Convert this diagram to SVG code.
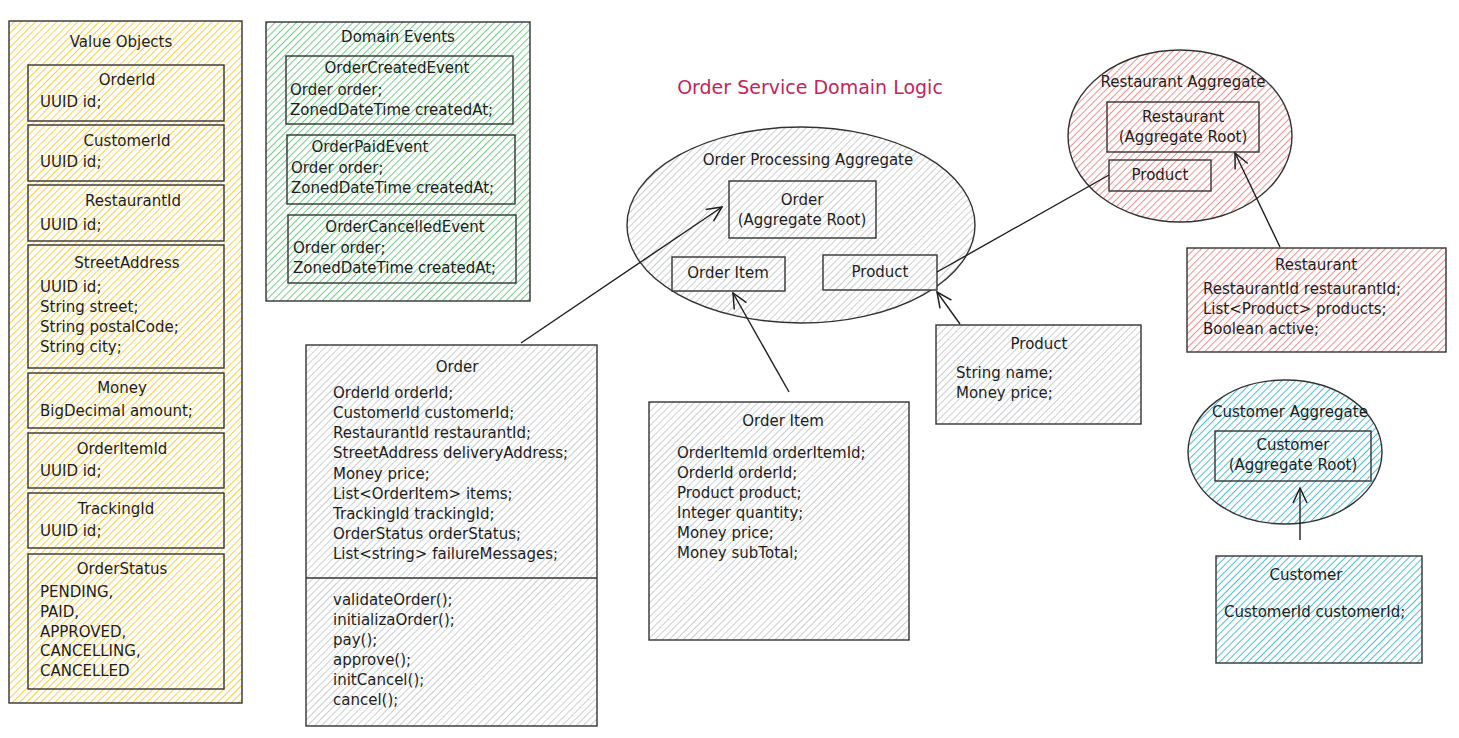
<svg xmlns="http://www.w3.org/2000/svg" width="1459" height="738" viewBox="0 0 1459 738">
<defs>
<pattern id="hy" patternUnits="userSpaceOnUse" width="5" height="5" patternTransform="rotate(45)"><rect width="5" height="5" fill="#fff"/><line x1="0" y1="0" x2="0" y2="5" stroke="#f8c828" stroke-width="1.7"/></pattern>
<pattern id="hg" patternUnits="userSpaceOnUse" width="5" height="5" patternTransform="rotate(45)"><rect width="5" height="5" fill="#fff"/><line x1="0" y1="0" x2="0" y2="5" stroke="#52c068" stroke-width="1.6"/></pattern>
<pattern id="hk" patternUnits="userSpaceOnUse" width="5" height="5" patternTransform="rotate(45)"><rect width="5" height="5" fill="#fff"/><line x1="0" y1="0" x2="0" y2="5" stroke="#b0b4b8" stroke-width="1.3"/></pattern>
<pattern id="hr" patternUnits="userSpaceOnUse" width="5" height="5" patternTransform="rotate(45)"><rect width="5" height="5" fill="#fff"/><line x1="0" y1="0" x2="0" y2="5" stroke="#f06a6a" stroke-width="1.5"/></pattern>
<pattern id="hc" patternUnits="userSpaceOnUse" width="5" height="5" patternTransform="rotate(45)"><rect width="5" height="5" fill="#fff"/><line x1="0" y1="0" x2="0" y2="5" stroke="#22b0c8" stroke-width="1.6"/></pattern>
<marker id="arr" markerUnits="userSpaceOnUse" markerWidth="20" markerHeight="20" refX="16" refY="8" orient="auto"><path d="M1,1 L16,8 L1,15" fill="none" stroke="#1e1e1e" stroke-width="1.5"/></marker>
</defs>
<style>
.t{font-family:"DejaVu Sans","Liberation Sans",Arial,sans-serif;font-size:15px;fill:#1e1e1e}
.c{text-anchor:middle}
.b{stroke:#333;stroke-width:1.4}
.conn line,.conn path{stroke:#1e1e1e;stroke-width:1.4;fill:none}
</style>
<rect width="1459" height="738" fill="#fff"/>

<g id="value-objects">
<rect class="b" x="9" y="21" width="233" height="682" fill="url(#hy)"/>
<text class="t c" x="121" y="47">Value Objects</text>
<rect class="b" x="28" y="65" width="196" height="56" fill="url(#hy)"/>
<text class="t c" x="127" y="85">OrderId</text><text class="t" x="40" y="107">UUID id;</text>
<rect class="b" x="28" y="125" width="196" height="56" fill="url(#hy)"/>
<text class="t c" x="127" y="146">CustomerId</text><text class="t" x="40" y="167">UUID id;</text>
<rect class="b" x="28" y="185" width="196" height="56" fill="url(#hy)"/>
<text class="t c" x="133" y="206">RestaurantId</text><text class="t" x="40" y="230">UUID id;</text>
<rect class="b" x="28" y="245" width="196" height="123" fill="url(#hy)"/>
<text class="t c" x="127" y="268">StreetAddress</text>
<text class="t" x="40" y="292">UUID id;</text><text class="t" x="40" y="312">String street;</text><text class="t" x="40" y="332">String postalCode;</text><text class="t" x="40" y="352">String city;</text>
<rect class="b" x="28" y="373" width="196" height="55" fill="url(#hy)"/>
<text class="t c" x="122" y="393">Money</text><text class="t" x="40" y="416">BigDecimal amount;</text>
<rect class="b" x="28" y="433" width="196" height="55" fill="url(#hy)"/>
<text class="t c" x="122" y="454">OrderItemId</text><text class="t" x="40" y="476">UUID id;</text>
<rect class="b" x="28" y="493" width="196" height="55" fill="url(#hy)"/>
<text class="t c" x="116" y="514">TrackingId</text><text class="t" x="40" y="536">UUID id;</text>
<rect class="b" x="28" y="554" width="196" height="135" fill="url(#hy)"/>
<text class="t c" x="122" y="574">OrderStatus</text>
<text class="t" x="40" y="597">PENDING,</text><text class="t" x="40" y="617">PAID,</text><text class="t" x="40" y="637">APPROVED,</text><text class="t" x="40" y="656">CANCELLING,</text><text class="t" x="40" y="676">CANCELLED</text>
</g>

<g id="domain-events">
<rect class="b" x="266" y="22" width="264" height="279" fill="url(#hg)"/>
<text class="t c" x="398" y="42">Domain Events</text>
<rect class="b" x="286" y="56" width="227" height="68" fill="url(#hg)"/>
<text class="t c" x="397" y="73">OrderCreatedEvent</text><text class="t" x="290" y="95">Order order;</text><text class="t" x="290" y="115">ZonedDateTime createdAt;</text>
<rect class="b" x="287" y="135" width="228" height="69" fill="url(#hg)"/>
<text class="t c" x="370" y="152">OrderPaidEvent</text><text class="t" x="291" y="173">Order order;</text><text class="t" x="291" y="193">ZonedDateTime createdAt;</text>
<rect class="b" x="288" y="215" width="228" height="68" fill="url(#hg)"/>
<text class="t c" x="405" y="232">OrderCancelledEvent</text><text class="t" x="293" y="253">Order order;</text><text class="t" x="293" y="273">ZonedDateTime createdAt;</text>
</g>

<g id="title">
<text x="810" y="94" text-anchor="middle" style="font-family:'DejaVu Sans','Liberation Sans',Arial,sans-serif;font-size:19px;fill:#c2255c">Order Service Domain Logic</text>
</g>

<g id="order-processing-aggregate">
<ellipse class="b" cx="801" cy="225" rx="174" ry="98" fill="url(#hk)"/>
<text class="t c" x="808" y="165">Order Processing Aggregate</text>
<rect class="b" x="729" y="181" width="147" height="57" fill="url(#hk)"/>
<text class="t c" x="802" y="205">Order</text><text class="t c" x="802" y="225">(Aggregate Root)</text>
<rect class="b" x="672" y="257" width="113" height="34" fill="url(#hk)"/>
<text class="t c" x="728" y="278">Order Item</text>
<rect class="b" x="823" y="255" width="114" height="35" fill="url(#hk)"/>
<text class="t c" x="880" y="277">Product</text>
</g>

<g id="restaurant-aggregate">
<ellipse class="b" cx="1180" cy="136" rx="112" ry="86" fill="url(#hr)"/>
<text class="t c" x="1183" y="87">Restaurant Aggregate</text>
<rect class="b" x="1107" y="102" width="152" height="50" fill="url(#hr)"/>
<text class="t c" x="1183" y="122">Restaurant</text><text class="t c" x="1183" y="142">(Aggregate Root)</text>
<rect class="b" x="1109" y="160" width="102" height="31" fill="url(#hr)"/>
<text class="t c" x="1160" y="180">Product</text>
</g>

<g id="customer-aggregate">
<ellipse class="b" cx="1285" cy="452" rx="97" ry="72" fill="url(#hc)"/>
<text class="t c" x="1290" y="417">Customer Aggregate</text>
<rect class="b" x="1215" y="431" width="156" height="50" fill="url(#hc)"/>
<text class="t c" x="1293" y="450">Customer</text><text class="t c" x="1293" y="470">(Aggregate Root)</text>
</g>

<g id="order-class">
<rect class="b" x="306" y="345" width="291" height="381" fill="url(#hk)"/>
<line class="b" x1="306" y1="578" x2="597" y2="578"/>
<text class="t c" x="457" y="372">Order</text>
<text class="t" x="333" y="398">OrderId orderId;</text>
<text class="t" x="333" y="418">CustomerId customerId;</text>
<text class="t" x="333" y="438">RestaurantId restaurantId;</text>
<text class="t" x="333" y="458">StreetAddress deliveryAddress;</text>
<text class="t" x="333" y="479">Money price;</text>
<text class="t" x="333" y="499">List&lt;OrderItem&gt; items;</text>
<text class="t" x="333" y="519">TrackingId trackingId;</text>
<text class="t" x="333" y="539">OrderStatus orderStatus;</text>
<text class="t" x="333" y="559">List&lt;string&gt; failureMessages;</text>
<text class="t" x="333" y="605">validateOrder();</text>
<text class="t" x="333" y="625">initializaOrder();</text>
<text class="t" x="333" y="645">pay();</text>
<text class="t" x="333" y="665">approve();</text>
<text class="t" x="333" y="685">initCancel();</text>
<text class="t" x="333" y="705">cancel();</text>
</g>

<g id="order-item-class">
<rect class="b" x="649" y="402" width="260" height="238" fill="url(#hk)"/>
<text class="t c" x="783" y="426">Order Item</text>
<text class="t" x="677" y="458">OrderItemId orderItemId;</text>
<text class="t" x="677" y="478">OrderId orderId;</text>
<text class="t" x="677" y="498">Product product;</text>
<text class="t" x="677" y="518">Integer quantity;</text>
<text class="t" x="677" y="538">Money price;</text>
<text class="t" x="677" y="558">Money subTotal;</text>
</g>

<g id="product-class">
<rect class="b" x="936" y="325" width="205" height="99" fill="url(#hk)"/>
<text class="t c" x="1039" y="349">Product</text>
<text class="t" x="956" y="378">String name;</text>
<text class="t" x="956" y="398">Money price;</text>
</g>

<g id="restaurant-class">
<rect class="b" x="1187" y="248" width="259" height="104" fill="url(#hr)"/>
<text class="t c" x="1316" y="270">Restaurant</text>
<text class="t" x="1203" y="294">RestaurantId restaurantId;</text>
<text class="t" x="1203" y="314">List&lt;Product&gt; products;</text>
<text class="t" x="1203" y="334">Boolean active;</text>
</g>

<g id="customer-class">
<rect class="b" x="1216" y="556" width="206" height="107" fill="url(#hc)"/>
<text class="t c" x="1306" y="580">Customer</text>
<text class="t" x="1224" y="617">CustomerId customerId;</text>
</g>

<g id="connectors" class="conn">
<line x1="521" y1="343" x2="722" y2="207" marker-end="url(#arr)"/>
<line x1="789" y1="392" x2="733" y2="293" marker-end="url(#arr)"/>
<line x1="960" y1="324" x2="937" y2="292" marker-end="url(#arr)"/>
<line x1="937" y1="272" x2="1109" y2="175"/>
<line x1="1280" y1="247" x2="1235" y2="153" marker-end="url(#arr)"/>
<line x1="1300" y1="540" x2="1300" y2="488" marker-end="url(#arr)"/>
</g>
</svg>
